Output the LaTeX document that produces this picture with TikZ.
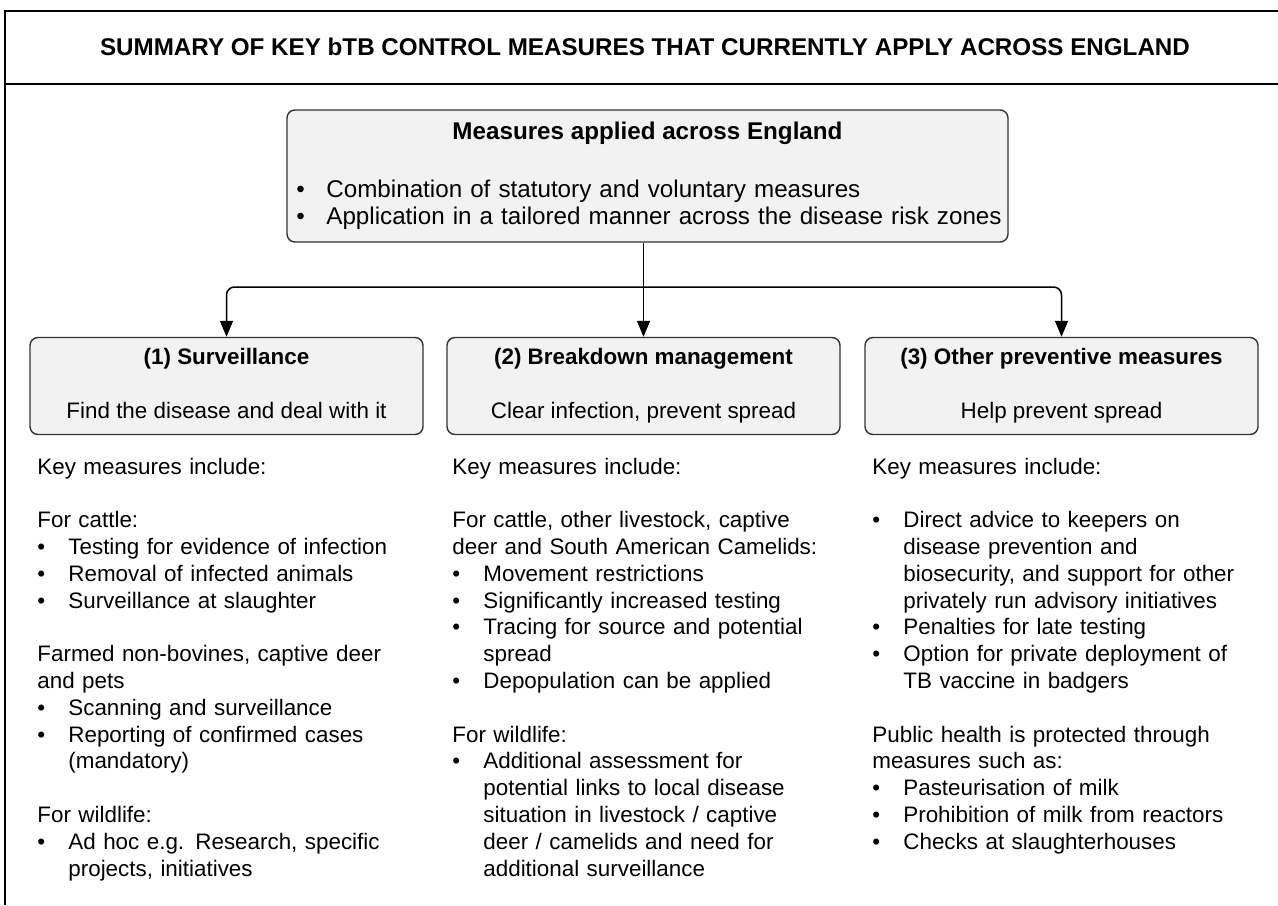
\documentclass[tikz,border=0pt]{standalone}
\usepackage{fontspec}
\setmainfont{Liberation Sans}
\usetikzlibrary{arrows.meta,calc,positioning}
\tikzset{
  box/.style={draw=black!80,fill=black!5,rounded corners=4pt,line width=0.7pt,
    minimum width=196.5pt,minimum height=48.5pt,inner sep=0pt,align=center,
    font=\fontsize{11.2}{13.4}\selectfont},
  col/.style={anchor=base west,inner sep=0pt,text width=220pt,align=left,
    font=\fontsize{11.2}{13.4}\selectfont},
  arr/.style={-{Triangle[length=8pt,width=6.5pt]},line width=0.75pt},
  frame/.style={line width=0.8pt},
  big/.style={font=\fontsize{12.1}{13.5}\selectfont},
  bigbf/.style={font=\fontsize{12.1}{13.5}\selectfont\bfseries}
}
\newcommand{\bitem}{\makebox[15.5pt][l]{\textbullet}}
\newcommand{\bcont}{\hspace*{15.5pt}}
\newcommand{\blank}{\\[13.4pt]}

\begin{document}
\begin{tikzpicture}[x=0.5pt,y=-0.5pt]
  \useasboundingbox (0,0) rectangle (1278,905);
  % frame and title
  \draw[frame] (5,905) -- (5,11) -- (1278,11);
  \draw[frame] (5,84) -- (1278,84);
  \node[bigbf,anchor=base,inner sep=0pt] (title) at (645,55.5)
  {SUMMARY OF KEY bTB CONTROL MEASURES THAT CURRENTLY APPLY ACROSS ENGLAND};

  % measures applied across England
  \node[box,minimum width=360.5pt,minimum height=66pt] (eng) at (647.5,176) {};
  \node[bigbf,anchor=base,inner sep=0pt] (engtitle) at (647.5,139)
  {Measures applied across England};
  \node[big,anchor=base west,inner sep=0pt,text width=400pt,align=left] (englist)
  at (296,197) {\makebox[15pt][l]{\textbullet}Combination of statutory and voluntary measures\\
  \makebox[15pt][l]{\textbullet}Application in a tailored manner across the disease risk zones};

  % the three strands
  \node[box] (surv) at (226.5,386)
  {\strut\textbf{(1) Surveillance}\blank Find the disease and deal with it\strut};
  \node[box] (brk) at (643.5,386)
  {\strut\textbf{(2) Breakdown management}\blank Clear infection, prevent spread\strut};
  \node[box] (prev) at (1061.5,386)
  {\strut\textbf{(3) Other preventive measures}\blank Help prevent spread\strut};

  % connectors
  \coordinate (hline) at (0,287);
  \coordinate (jn) at (brk.north |- hline);
  \draw[arr] (brk.north |- eng.south) -- (brk.north);
  \draw[arr,rounded corners=4pt] (jn) -| (surv.north);
  \draw[arr,rounded corners=4pt] (jn) -| (prev.north);

  % key measures
  \node[col] (survtxt) at (37,474) {Key measures include:\blank
  For cattle:\\
  \bitem Testing for evidence of infection\\
  \bitem Removal of infected animals\\
  \bitem Surveillance at slaughter\blank
  Farmed non-bovines, captive deer\\
  and pets\\
  \bitem Scanning and surveillance\\
  \bitem Reporting of confirmed cases\\
  \bcont (mandatory)\blank
  For wildlife:\\
  \bitem Ad hoc e.g. Research, specific\\
  \bcont projects, initiatives};

  \node[col] (brktxt) at (452,474) {Key measures include:\blank
  For cattle, other livestock, captive\\
  deer and South American Camelids:\\
  \bitem Movement restrictions\\
  \bitem Significantly increased testing\\
  \bitem Tracing for source and potential\\
  \bcont spread\\
  \bitem Depopulation can be applied\blank
  For wildlife:\\
  \bitem Additional assessment for\\
  \bcont potential links to local disease\\
  \bcont situation in livestock / captive\\
  \bcont deer / camelids and need for\\
  \bcont additional surveillance};

  \node[col] (prevtxt) at (872,474) {Key measures include:\blank
  \bitem Direct advice to keepers on\\
  \bcont disease prevention and\\
  \bcont biosecurity, and support for other\\
  \bcont privately run advisory initiatives\\
  \bitem Penalties for late testing\\
  \bitem Option for private deployment of\\
  \bcont TB vaccine in badgers\blank
  Public health is protected through\\
  measures such as:\\
  \bitem Pasteurisation of milk\\
  \bitem Prohibition of milk from reactors\\
  \bitem Checks at slaughterhouses};
\end{tikzpicture}
\end{document}
